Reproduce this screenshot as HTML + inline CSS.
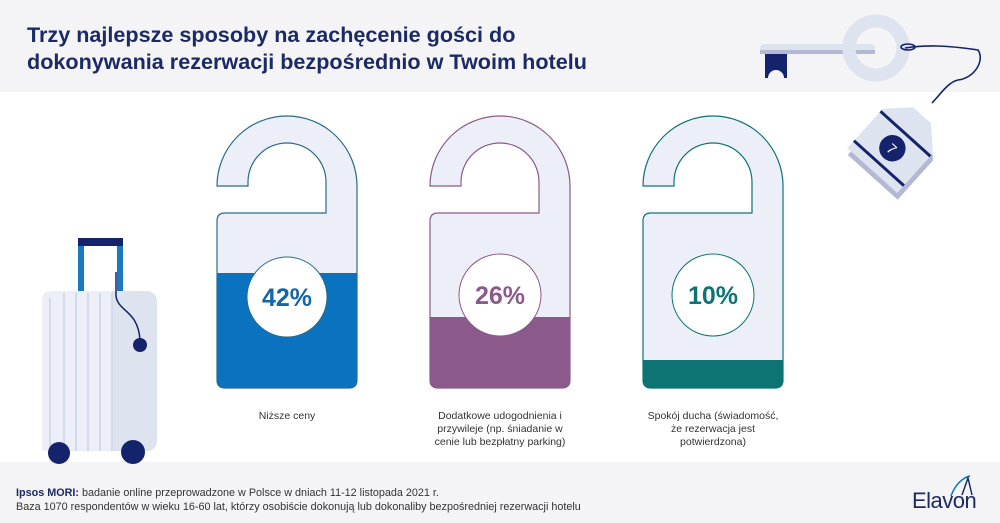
<!DOCTYPE html>
<html><head><meta charset="utf-8"><style>
html,body{margin:0;padding:0;width:1000px;height:523px;overflow:hidden;background:#fff}
svg{display:block}
</style></head><body>
<svg width="1000" height="523" viewBox="0 0 1000 523" xmlns="http://www.w3.org/2000/svg" font-family="Liberation Sans, Arial, sans-serif">
<defs>
<path id="hg" d="M217,186 A70,70 0 0 1 357,186 L357,380 Q357,388 349,388 L225,388 Q217,388 217,380 L217,221 Q217,213 225,213 L326,213 L326,182 A39,39 0 0 0 248,182 L248,186 Z"/>
<clipPath id="c1"><use href="#hg"/></clipPath>
<clipPath id="c2"><use href="#hg" transform="translate(213,0)"/></clipPath>
<clipPath id="c3"><use href="#hg" transform="translate(426,0)"/></clipPath>
</defs>
<rect x="0" y="0" width="1000" height="92" fill="#f4f4f6"/>
<rect x="0" y="462" width="1000" height="61" fill="#f4f4f6"/>
<text x="27" y="42" font-size="21.6" font-weight="bold" fill="#1b2a63">Trzy najlepsze sposoby na zachęcenie gości do</text>
<text x="27" y="69" font-size="21.6" font-weight="bold" fill="#1b2a63">dokonywania rezerwacji bezpośrednio w Twoim hotelu</text>

<!-- key -->
<rect x="760" y="44" width="115" height="10" rx="4" fill="#dde3ef"/>
<rect x="760" y="50" width="115" height="4" fill="#b4b8d2"/>
<rect x="765" y="54" width="22" height="24" fill="#14236b"/>
<path d="M768,78 A8,8 0 0 1 784,78 Z" fill="#f4f4f6"/>
<circle cx="876" cy="48" r="27" fill="none" stroke="#dde3ef" stroke-width="13"/>
<path d="M905,48 C925,45 945,45 978,50 C985,60 975,78 958,80 C948,82 940,95 932,103" fill="none" stroke="#14236b" stroke-width="1.6"/>
<ellipse cx="908" cy="47" rx="7" ry="3" fill="none" stroke="#14236b" stroke-width="1.6"/>
<!-- tag -->
<g transform="translate(898,142) rotate(-48) scale(1.2)">
<path d="M-32,-28 L12,-28 L30,-10 L30,10 L12,28 L-32,28 Z" fill="#b4b8d2" transform="translate(-4,4)"/>
<path d="M-32,-28 L12,-28 L30,-10 L30,10 L12,28 L-32,28 Z" fill="#dde3ef"/>
<rect x="-25" y="-28" width="2.5" height="56" fill="#14236b"/>
<rect x="8" y="-28" width="2.5" height="56" fill="#14236b"/>
<circle cx="-7" cy="0" r="11" fill="#14236b"/>
<text x="-7" y="5" font-size="12" fill="#fff" text-anchor="middle" transform="rotate(90 -7 0)">7</text>
</g>

<!-- suitcase -->
<rect x="78" y="238" width="45" height="8" fill="#14236b"/>
<rect x="78" y="246" width="6" height="46" fill="#1a7abf"/>
<rect x="117" y="246" width="6" height="46" fill="#1a7abf"/>
<rect x="42" y="291" width="115" height="160" rx="10" fill="#dde3ef"/>
<path d="M52,291 L112,291 L112,451 L42,451 L42,301 Q42,291 52,291 Z" fill="#eceff8"/>
<g stroke="#d4d9ea" stroke-width="2">
<line x1="50" y1="298" x2="50" y2="451"/><line x1="64" y1="293" x2="64" y2="451"/><line x1="76" y1="293" x2="76" y2="451"/><line x1="88" y1="293" x2="88" y2="451"/><line x1="100" y1="293" x2="100" y2="451"/><line x1="112" y1="293" x2="112" y2="451"/>
</g>
<path d="M116,272 L116,296 C118,312 138,310 140,340" fill="none" stroke="#14236b" stroke-width="1.5"/>
<circle cx="140" cy="345" r="7" fill="#14236b"/>
<circle cx="59" cy="453" r="11" fill="#14236b"/>
<circle cx="133" cy="452" r="12" fill="#14236b"/>

<!-- hanger 1 -->
<use href="#hg" fill="#eceff8"/>
<rect x="210" y="273" width="160" height="120" fill="#0b72bf" clip-path="url(#c1)"/>
<use href="#hg" fill="none" stroke="#2b6b85" stroke-width="1.2"/>
<circle cx="287" cy="297" r="40" fill="#fff" stroke="#2b6b85" stroke-width="1"/>
<text x="287" y="306" font-size="25" font-weight="bold" fill="#1565a8" text-anchor="middle">42%</text>

<!-- hanger 2 -->
<use href="#hg" transform="translate(213,0)" fill="#eceff8"/>
<rect x="423" y="317" width="160" height="80" fill="#8b5a8a" clip-path="url(#c2)"/>
<use href="#hg" transform="translate(213,0)" fill="none" stroke="#8b5a8a" stroke-width="1.2"/>
<circle cx="500" cy="295" r="41" fill="#fff" stroke="#8b5a8a" stroke-width="1"/>
<text x="500" y="304" font-size="25" font-weight="bold" fill="#8b5a8a" text-anchor="middle">26%</text>

<!-- hanger 3 -->
<use href="#hg" transform="translate(426,0)" fill="#eceff8"/>
<rect x="636" y="360" width="160" height="40" fill="#0d7373" clip-path="url(#c3)"/>
<use href="#hg" transform="translate(426,0)" fill="none" stroke="#0d7373" stroke-width="1.2"/>
<circle cx="713" cy="295" r="41" fill="#fff" stroke="#0d7373" stroke-width="1"/>
<text x="713" y="304" font-size="25" font-weight="bold" fill="#0d7373" text-anchor="middle">10%</text>

<g font-size="10.5" fill="#333" text-anchor="middle">
<text x="287" y="419">Niższe ceny</text>
<text x="500" y="419">Dodatkowe udogodnienia i</text>
<text x="500" y="432">przywileje (np. śniadanie w</text>
<text x="500" y="445">cenie lub bezpłatny parking)</text>
<text x="713" y="419">Spokój ducha (świadomość,</text>
<text x="713" y="432">że rezerwacja jest</text>
<text x="713" y="445">potwierdzona)</text>
</g>

<g font-size="10.8" fill="#333">
<text x="16" y="496"><tspan font-weight="bold" fill="#1b2a63">Ipsos MORI:</tspan> badanie online przeprowadzone w Polsce w dniach 11-12 listopada 2021 r.</text>
<text x="16" y="510">Baza 1070 respondentów w wieku 16-60 lat, którzy osobiście dokonują lub dokonaliby bezpośredniej rezerwacji hotelu</text>
</g>
<text x="912" y="508" font-size="22" fill="#1b2a63" letter-spacing="-0.5">Elavon</text>
<path d="M951,496 C955,485 962,478 970,476" fill="none" stroke="#0b72bf" stroke-width="1.5"/>
<path d="M962,495 L968,478 L972,495" fill="none" stroke="#1b2a63" stroke-width="1.5"/>
</svg>
</body></html>
